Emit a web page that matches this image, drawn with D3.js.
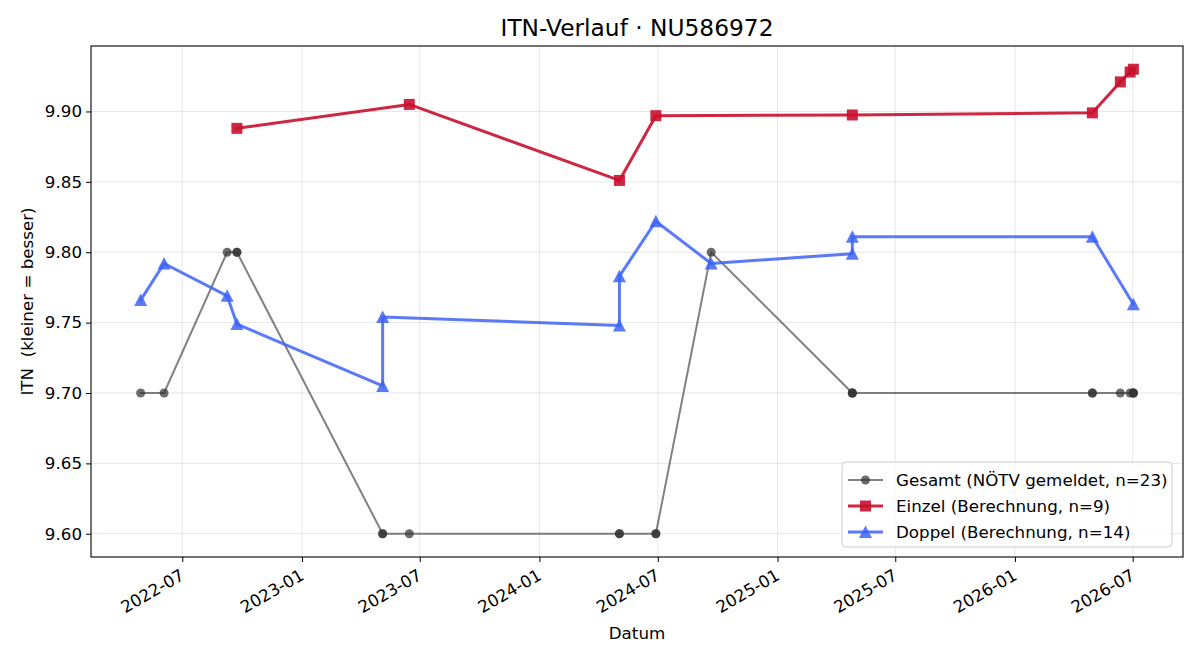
<!DOCTYPE html>
<html>
<head>
	<title>ITN-Verlauf</title>
	<script src="https://cdn.jsdelivr.net/npm/d3@7"></script>
</head>
<style type="text/css">
	body { margin: 0; background: #fff; }
	text { font-family: "DejaVu Sans", sans-serif; fill: #000; }
</style>
<body>
</body>
</html>
<script type="text/javascript">
	var width = 1200;
	var height = 660;
	var margin = {top: 46, right: 17, bottom: 103, left: 91};

	// Gesamt (NÖTV gemeldet), mehrfache Meldungen am selben Tag
	var gesamtDates = ["2022-04-28","2022-06-03","2022-09-08","2022-09-23","2022-09-23","2023-05-05","2023-05-05","2023-06-15",
		"2024-05-03","2024-05-03","2024-06-28","2024-06-28","2024-09-21","2025-04-26","2025-04-26","2025-04-26",
		"2026-04-30","2026-04-30","2026-06-12","2026-06-27","2026-07-02","2026-07-02","2026-07-02"];
	var gesamtValues = [9.70, 9.70, 9.80, 9.80, 9.80, 9.60, 9.60, 9.60,
		9.60, 9.60, 9.60, 9.60, 9.80, 9.70, 9.70, 9.70,
		9.70, 9.70, 9.70, 9.70, 9.70, 9.70, 9.70];

	var einzelDates = ["2022-09-23","2023-06-15","2024-05-03","2024-06-28","2025-04-26","2026-04-30","2026-06-12","2026-06-27","2026-07-02"];
	var einzelValues = [9.888, 9.905, 9.851, 9.897, 9.8975, 9.899, 9.921, 9.928, 9.930];

	var doppelDates = ["2022-04-28","2022-06-03","2022-09-08","2022-09-23","2023-05-05","2023-05-05","2024-05-03",
		"2024-05-03","2024-06-28","2024-09-21","2025-04-26","2025-04-26","2026-04-30","2026-07-02"];
	var doppelValues = [9.766, 9.792, 9.769, 9.749, 9.705, 9.754, 9.748,
		9.783, 9.822, 9.792, 9.799, 9.811, 9.811, 9.763];

	var yTicks = [9.60, 9.65, 9.70, 9.75, 9.80, 9.85, 9.90];

	var parse = d3.timeParse("%Y-%m-%d");
	function pairs(dates, values) {
		return dates.map(function(d, i) { return {date: parse(d), value: values[i]}; });
	}

	var series = [
		{name: "Gesamt (NÖTV gemeldet, n=" + gesamtValues.length + ")", data: pairs(gesamtDates, gesamtValues),
			color: "#333333", lineOpacity: 0.62, markOpacity: 0.72, lw: 2, shape: "circle"},
		{name: "Einzel (Berechnung, n=" + einzelValues.length + ")", data: pairs(einzelDates, einzelValues),
			color: "#C8102E", lineOpacity: 0.9, markOpacity: 0.9, lw: 3, shape: "square"},
		{name: "Doppel (Berechnung, n=" + doppelValues.length + ")", data: pairs(doppelDates, doppelValues),
			color: "#3D63F5", lineOpacity: 0.85, markOpacity: 0.85, lw: 3, shape: "triangle"}
	];

	var all = [].concat.apply([], series.map(function(s){ return s.data; }));
	var xExt = d3.extent(all, function(d){ return d.date; });
	var yExt = d3.extent(all, function(d){ return d.value; });
	var xPad = (xExt[1] - xExt[0]) * 0.05;
	var yPad = (yExt[1] - yExt[0]) * 0.05;

	var innerW = width - margin.left - margin.right;
	var innerH = height - margin.top - margin.bottom;

	var x = d3.scaleTime()
		.domain([new Date(+xExt[0] - xPad), new Date(+xExt[1] + xPad)])
		.range([0, innerW]);
	var y = d3.scaleLinear()
		.domain([yExt[0] - yPad, yExt[1] + yPad])
		.range([innerH, 0]);

	var svg = d3.select("body").append("svg").attr("width", width).attr("height", height);
	var g = svg.append("g").attr("transform", "translate(" + margin.left + "," + margin.top + ")");

	var xTickVals = d3.timeMonth.every(6).range(x.domain()[0], x.domain()[1]);

	// grid
	g.append("g").selectAll("line").data(xTickVals).enter().append("line")
		.attr("x1", function(d){ return x(d); }).attr("x2", function(d){ return x(d); })
		.attr("y1", 0).attr("y2", innerH)
		.attr("stroke", "#b0b0b0").attr("stroke-opacity", 0.3).attr("stroke-width", 1);
	g.append("g").selectAll("line").data(yTicks).enter().append("line")
		.attr("x1", 0).attr("x2", innerW)
		.attr("y1", function(d){ return y(d); }).attr("y2", function(d){ return y(d); })
		.attr("stroke", "#b0b0b0").attr("stroke-opacity", 0.3).attr("stroke-width", 1);

	// axes
	var xAxis = g.append("g").attr("transform", "translate(0," + innerH + ")")
		.call(d3.axisBottom(x).tickValues(xTickVals).tickFormat(d3.timeFormat("%Y-%m")).tickSizeInner(5).tickSizeOuter(0).tickPadding(4));
	xAxis.select(".domain").remove();
	xAxis.selectAll("text")
		.style("font-size", "16.7px")
		.attr("text-anchor", "end")
		.attr("dy", "0.75em")
		.attr("transform", function(){ return "translate(-8,3) rotate(-30)"; });

	var yAxis = g.append("g")
		.call(d3.axisLeft(y).tickValues(yTicks).tickFormat(d3.format(".2f")).tickSizeInner(5).tickSizeOuter(0).tickPadding(4));
	yAxis.select(".domain").remove();
	yAxis.selectAll("text").style("font-size", "16.7px");

	g.append("rect").attr("width", innerW).attr("height", innerH)
		.attr("fill", "none").attr("stroke", "#000").attr("stroke-width", 1.1);

	// lines + markers
	var line = d3.line().x(function(d){ return x(d.date); }).y(function(d){ return y(d.value); });

	function drawMarker(sel, s, cx, cy) {
		if (s.shape === "circle") {
			sel.append("circle").attr("cx", cx).attr("cy", cy).attr("r", 4.5)
				.attr("fill", s.color).attr("fill-opacity", s.markOpacity);
		} else if (s.shape === "square") {
			sel.append("rect").attr("x", cx - 5.5).attr("y", cy - 5.5).attr("width", 11).attr("height", 11)
				.attr("fill", s.color).attr("fill-opacity", s.markOpacity);
		} else {
			sel.append("path").attr("d", "M" + cx + "," + (cy - 6.5) + "L" + (cx + 6.5) + "," + (cy + 6) + "L" + (cx - 6.5) + "," + (cy + 6) + "Z")
				.attr("fill", s.color).attr("fill-opacity", s.markOpacity);
		}
	}

	series.forEach(function(s) {
		g.append("path").datum(s.data).attr("d", line)
			.attr("fill", "none").attr("stroke", s.color).attr("stroke-opacity", s.lineOpacity)
			.attr("stroke-width", s.lw).attr("stroke-linejoin", "round").attr("stroke-linecap", "round");
		var mg = g.append("g");
		s.data.forEach(function(d) { drawMarker(mg, s, x(d.date), y(d.value)); });
	});

	// title and labels
	svg.append("text").attr("x", margin.left + innerW / 2).attr("y", 36)
		.attr("text-anchor", "middle").style("font-size", "23.3px").text("ITN-Verlauf · NU586972");
	svg.append("text").attr("x", margin.left + innerW / 2).attr("y", 639)
		.attr("text-anchor", "middle").style("font-size", "16.7px").text("Datum");
	svg.append("text").attr("transform", "translate(33," + (margin.top + innerH / 2) + ") rotate(-90)")
		.attr("text-anchor", "middle").style("font-size", "16.7px").style("white-space", "pre")
		.attr("xml:space", "preserve").text("ITN  (kleiner = besser)");

	// legend
	var lg = g.append("g").attr("transform", "translate(" + (innerW - 341) + "," + (innerH - 95) + ")");
	lg.append("rect").attr("width", 330).attr("height", 85).attr("rx", 4)
		.attr("fill", "#fff").attr("fill-opacity", 0.8).attr("stroke", "#cccccc").attr("stroke-width", 1);
	series.forEach(function(s, i) {
		var yy = 18 + i * 26;
		lg.append("line").attr("x1", 6).attr("x2", 41).attr("y1", yy).attr("y2", yy)
			.attr("stroke", s.color).attr("stroke-opacity", s.lineOpacity).attr("stroke-width", s.lw);
		drawMarker(lg, s, 23.5, yy);
		lg.append("text").attr("x", 54).attr("y", yy).attr("dy", "0.35em")
			.style("font-size", "16.7px").text(s.name);
	});
</script>
